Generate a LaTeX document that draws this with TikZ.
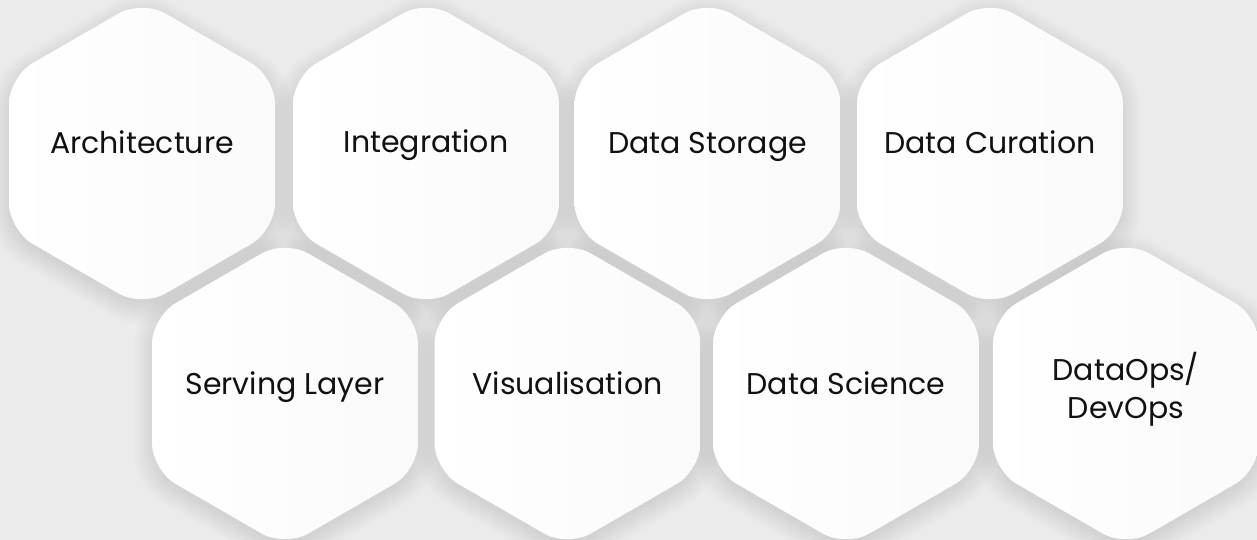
\documentclass[tikz,border=0pt]{standalone}
\usepackage{fontspec}
\setmainfont{Poppins}
\usetikzlibrary{shapes.geometric}
\definecolor{bg}{RGB}{235,235,235}
\definecolor{ink}{RGB}{17,17,17}
\definecolor{hexr}{RGB}{250,250,250}
\tikzset{
  hexcell/.style={regular polygon, regular polygon sides=6, shape border rotate=30,
    minimum size=307pt, inner sep=0pt, outer sep=0pt, rounded corners=27pt,
    draw=none, left color=white, right color=hexr},
  lbl/.style={font=\fontsize{30}{38}\selectfont, text=ink, inner sep=0pt},
  shadowlayer/.style={fill=black, opacity=0.006}
}
\newcommand\hexshadow[2]{%
  \foreach \k in {1,...,12}{
    \fill[shadowlayer, rounded corners=30pt, shift={(#1,#2+6)}]
      (30:150+2*\k) -- (90:150+2*\k) -- (150:150+2*\k) -- (210:150+2*\k)
      -- (270:150+2*\k) -- (330:150+2*\k) -- cycle;
  }%
}
\begin{document}
\begin{tikzpicture}[x=1pt,y=-1pt]
\useasboundingbox (0,0) rectangle (1257,540);
\fill[bg] (0,0) rectangle (1257,540);
\clip (0,0) rectangle (1257,540);
% shadows
\hexshadow{142}{153.5}
\hexshadow{426}{153.5}
\hexshadow{707.5}{153.5}
\hexshadow{990}{153.5}
\hexshadow{285}{393.5}
\hexshadow{567.5}{393.5}
\hexshadow{846}{393.5}
\hexshadow{1126}{393.5}
% hexagons
\node[hexcell] (arch) at (142,153.5) {};
\node[hexcell] (integ) at (426,153.5) {};
\node[hexcell] (store) at (707.5,153.5) {};
\node[hexcell] (curat) at (990,153.5) {};
\node[hexcell] (serve) at (285,393.5) {};
\node[hexcell] (visu) at (567.5,393.5) {};
\node[hexcell] (sci) at (846,393.5) {};
\node[hexcell] (ops) at (1126,393.5) {};
% labels
\node[lbl, anchor=base] (tarch) at (142,154) {Architecture};
\node[lbl, anchor=base] (tinteg) at (426,153) {Integration};
\node[lbl, anchor=base] (tstore) at (707.5,154) {Data Storage};
\node[lbl, anchor=base] (tcurat) at (990,154) {Data Curation};
\node[lbl, anchor=base] (tserve) at (285,394) {Serving Layer};
\node[lbl, anchor=base] (tvisu) at (567.5,394) {Visualisation};
\node[lbl, anchor=base] (tsci) at (846,394) {Data Science};
\node[lbl, anchor=base] (tops1) at (1126,380) {DataOps/};
\node[lbl, anchor=base] (tops2) at (1126,418) {DevOps};
\end{tikzpicture}
\end{document}
